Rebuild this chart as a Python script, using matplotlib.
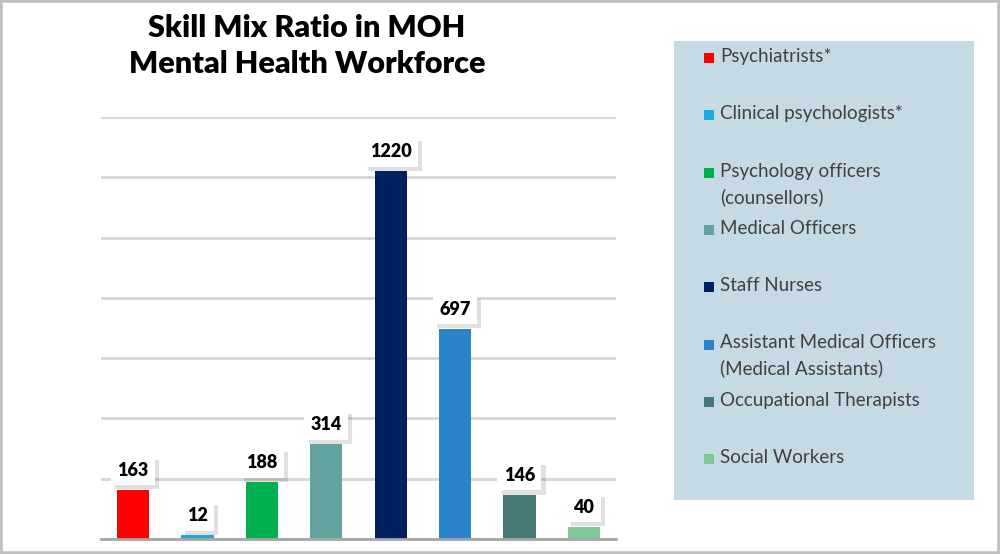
import matplotlib
matplotlib.use("Agg")
import matplotlib.pyplot as plt
from matplotlib.patches import Rectangle
import matplotlib.patheffects as pe

# --- data ---
categories = [
    "Psychiatrists*",
    "Clinical psychologists*",
    "Psychology officers\n(counsellors)",
    "Medical Officers",
    "Staff Nurses",
    "Assistant Medical Officers\n(Medical Assistants)",
    "Occupational Therapists",
    "Social Workers",
]
counts = [163, 12, 188, 314, 1220, 697, 146, 40]
colors = ["#ff0000", "#1ea7e1", "#00b050", "#62a29f",
          "#002060", "#2a82ca", "#467876", "#7fc795"]
title = "Skill Mix Ratio in MOH\nMental Health Workforce"

W, H = 1000, 554
fig = plt.figure(figsize=(W / 100, H / 100), dpi=100)
fig.patch.set_facecolor("white")

# plot area (pixel positions from the reference)
ax = fig.add_axes([101 / W, 1 - 539 / H, 515 / W, 422 / H])
x = range(len(counts))
ax.bar(x, counts, width=0.5, color=colors, zorder=3)
ax.set_xlim(-0.5, len(counts) - 0.5)
ax.set_ylim(0, 1400)
ax.set_yticks(range(0, 1401, 200))
ax.yaxis.grid(True, color="#d6d6d6", linewidth=2)
ax.set_axisbelow(True)
ax.tick_params(left=False, bottom=False, labelleft=False, labelbottom=False)
for s in ["top", "right", "left"]:
    ax.spines[s].set_visible(False)
ax.spines["bottom"].set_color("#a6a6a6")
ax.spines["bottom"].set_linewidth(2)
ax.spines["bottom"].set_zorder(4)

# value labels in white boxes with a drop shadow
for xi, v in zip(x, counts):
    t = ax.annotate(str(v), (xi, v), xytext=(0, 14), textcoords="offset points",
                    ha="center", va="center", fontsize=13, fontweight="heavy",
                    family="Lato", color="black", zorder=5,
                    bbox=dict(boxstyle="square,pad=0.35", fc="white", ec="none"))
    t.get_bbox_patch().set_path_effects(
        [pe.withSimplePatchShadow(offset=(3, -3), shadow_rgbFace="black", alpha=0.12)])

# title
fig.text(307 / W, 1 - 46 / H, title, ha="center", va="center", fontsize=22,
         fontweight="heavy", family="Lato", linespacing=1.35)

# legend panel
fig.add_artist(Rectangle((674 / W, 1 - 500 / H), 300 / W, 459 / H,
                         transform=fig.transFigure, fc="#c6dae5", ec="none"))
for i, (name, c) in enumerate(zip(categories, colors)):
    y = 58 + i * 57.3
    fig.add_artist(Rectangle((704 / W, 1 - (y + 5) / H), 10 / W, 10 / H,
                             transform=fig.transFigure, fc=c, ec="none"))
    fig.text(720 / W, 1 - (y - 10) / H, name, ha="left", va="top", fontsize=13.5,
             family="Lato", color="#404040", linespacing=1.55)

# outer border
fig.add_artist(Rectangle((0, 0), 1, 1, transform=fig.transFigure,
                         fc="none", ec="#bfbfbf", lw=4))

fig.savefig("out.png", dpi=100)
